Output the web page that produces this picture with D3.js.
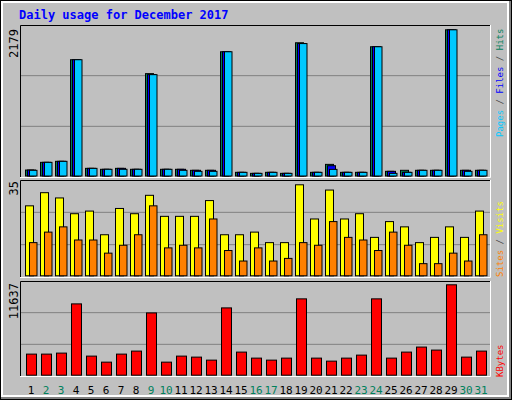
<!DOCTYPE html><html><head><script src="https://d3js.org/d3.v7.min.js"></script>
<style>body{margin:0;background:#fff}text{font-family:"DejaVu Sans Mono",monospace}</style></head><body><script>
const days=d3.range(1,32);
const weekend=[2,3,9,10,16,17,23,24,30,31];
const hits=[103,217,232,1736,128,114,128,114,1530,114,114,99,99,1854,69,54,69,54,1987,69,187,69,69,1928,84,99,99,99,2179,99,99];
const files=[103,217,232,1736,128,114,128,114,1515,114,114,99,99,1854,69,54,69,54,1975,69,167,69,69,1928,84,69,99,99,2179,99,99];
const pages=[99,217,232,1736,128,114,114,114,1515,114,99,84,84,1854,69,54,69,54,1975,69,113,69,69,1928,54,69,99,99,2179,84,99];
const visits=[27,32,30,24,25,16,26,24,31,23,23,23,29,16,16,17,13,13,35,22,33,22,24,15,21,19,13,15,19,15,25];
const sites=[13,17,19,14,14,9,12,16,27,11,12,11,22,10,6,11,6,7,13,12,21,15,14,10,17,12,5,5,9,6,16];
const kbytes=[2813,2813,2941,9207,2558,1790,2813,3197,8056,1790,2558,2430,2046,8696,3069,2302,2046,2302,9847,2302,1918,2302,2685,9847,2302,3069,3709,3325,11637,2430,3197];
const maxLabels=["2179","35","11637"];
const W=512,H=400;
const svg=d3.select("body").append("svg").attr("width",W).attr("height",H);
svg.append("rect").attr("width",W).attr("height",H).attr("fill","#000");
svg.append("rect").attr("x",1).attr("y",1).attr("width",W-2).attr("height",H-2).attr("fill","#808080");
svg.append("rect").attr("x",1).attr("y",1).attr("width",W-4).attr("height",H-4).attr("fill","#fff");
svg.append("rect").attr("x",3).attr("y",3).attr("width",W-8).attr("height",H-8).attr("fill","#c0c0c0");
svg.append("text").attr("x",19).attr("y",19).attr("fill","#0000ff").attr("font-weight","bold").attr("font-size",12).text("Daily usage for December 2017");
const x=d3.scaleLinear().domain([1,32]).range([25,490]);
const panels=[{t:25,b:177},{t:180,b:277},{t:281,b:376}];
panels.forEach(p=>{
 const g=svg.append("g");
 [1,2].forEach(k=>{const y=p.t+(p.b-p.t)*k/3;g.append("line").attr("x1",20).attr("x2",490).attr("y1",y).attr("y2",y).attr("stroke","#808080");});
 g.append("path").attr("d",`M20.5,${p.b}V${p.t+.5}H490.5`).attr("stroke","#000").attr("fill","none");
 g.append("path").attr("d",`M490.5,${p.t}V${p.b+.5}H20`).attr("stroke","#fff").attr("fill","none");
});
function bars(data,scale,off,w,color){
 svg.append("g").selectAll("rect").data(data).join("rect")
 .attr("x",(d,i)=>x(i+1)+off+.5).attr("y",d=>scale(d)+.5).attr("width",w).attr("height",d=>scale(0)-scale(d)-1)
 .attr("fill",color).attr("stroke","#000");
}
const y1=d3.scaleLinear().domain([0,2179]).range([176.5,29.3]);
bars(hits,y1,0,8,"#00805c");bars(files,y1,2,8,"#0000ff");bars(pages,y1,4,7.5,"#00c8ff");
const y2=d3.scaleLinear().domain([0,35]).range([276.3,184.3]);
bars(visits,y2,0,8,"#ffff00");bars(sites,y2,4,7.5,"#ff8000");
const y3=d3.scaleLinear().domain([0,11637]).range([375.7,284.3]);
bars(kbytes,y3,1,10,"#ff0000");
svg.append("g").selectAll("text").data(days).join("text").attr("x",d=>x(d)+6).attr("y",394).attr("text-anchor","middle").attr("font-size",11)
 .attr("fill",d=>weekend.includes(d)?"#00805c":"#000").text(d=>d);
[[14,29],[14,181],[14,283]].forEach(([px,py],i)=>svg.append("text").attr("transform",`translate(${px+4},${py}) rotate(-90)`).attr("text-anchor","end").attr("font-size",12).text(maxLabels[i]));
function vlab(yb,parts){const t=svg.append("text").attr("transform",`translate(503,${yb}) rotate(-90)`).attr("font-size",9).attr("textLength",null);
 parts.forEach(([s,c])=>t.append("tspan").attr("fill",c).text(s));}
vlab(137,[["Pages","#00c8ff"],[" / ","#404040"],["Files","#0000ff"],[" / ","#404040"],["Hits","#00805c"]]);
vlab(277,[["Sites","#ff8000"],[" / ","#404040"],["Visits","#ffff00"]]);
vlab(377,[["KBytes","#ff0000"]]);
</script></body></html>
